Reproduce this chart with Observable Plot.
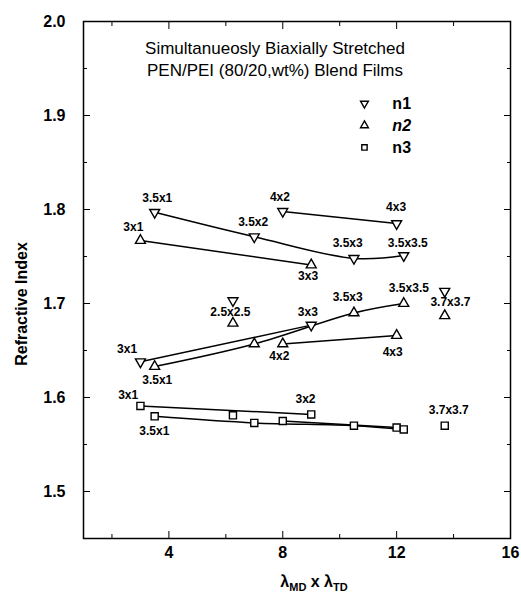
<!DOCTYPE html>
<html>
<head>
<meta charset="utf-8">
<script src="https://cdn.jsdelivr.net/npm/d3@7"></script>
<script src="https://cdn.jsdelivr.net/npm/@observablehq/plot@0.6"></script>
<style>
  html, body { margin: 0; padding: 0; background: #fff; }
  #chart { width: 521px; height: 596px; }
</style>
</head>
<body>
<div id="chart"></div>
<script>
// ---- data ----
const ratios     = ["3x1", "3.5x1", "2.5x2.5", "3.5x2", "4x2", "3x3", "3.5x3", "4x3", "3.5x3.5", "3.7x3.7"];
const drawRatio  = [3, 3.5, 6.25, 7, 8, 9, 10.5, 12, 12.25, 13.69];
const n1 = [1.638, 1.797, 1.703, 1.771, 1.798, 1.677, 1.748, 1.785, 1.751, 1.713];
const n2 = [1.767, 1.633, 1.679, 1.657, 1.657, 1.741, 1.690, 1.666, 1.700, 1.687];
const n3 = [1.591, 1.580, 1.581, 1.573, 1.575, 1.582, 1.570, 1.568, 1.566, 1.570];

const labelText = ["3.5x1", "4x2", "3.5x2", "3x1", "4x3", "3.5x3", "3.5x3.5", "3x3", "3.5x3.5", "3.7x3.7",
                   "3.5x3", "2.5x2.5", "3x3", "3x1", "4x2", "4x3", "3.5x1", "3x1", "3x2", "3.7x3.7", "3.5x1"];
const labelX = [3.59, 7.90, 6.96, 2.75, 11.98, 10.28, 12.39, 8.89, 12.43, 13.89,
                10.28, 6.16, 8.88, 2.53, 7.88, 11.86, 3.59, 2.57, 8.80, 13.83, 3.49];
const labelY = [1.812, 1.813, 1.7865, 1.781, 1.802, 1.764, 1.764, 1.7287, 1.7167, 1.7014,
                1.7064, 1.6907, 1.6907, 1.6518, 1.6436, 1.6482, 1.6188, 1.6021, 1.5986, 1.5862, 1.5638];

const seriesNames = ["n1", "n2", "n3"];
const xMajorTicks = [4, 8, 12, 16];
const xMinorTicks = [2, 6, 10, 14];
const yMajorTicks = [1.5, 1.6, 1.7, 1.8, 1.9, 2.0];
const yMinorTicks = [1.55, 1.65, 1.75, 1.85, 1.95];
const titleLines = ["Simultanueosly Biaxially Stretched", "PEN/PEI (80/20,wt%) Blend Films"];
const yLabel = "Refractive Index";
const xLabelParts = [["λ", ""], ["MD", "sub"], [" x λ", ""], ["TD", "sub"]];

// ---- build tables ----
const downTriangle = {
  draw(context, size) {
    const s = Math.sqrt(3);
    const y = -Math.sqrt(size / (s * 3));
    context.moveTo(0, -y * 2);
    context.lineTo(-s * y, y);
    context.lineTo(s * y, y);
    context.closePath();
  }
};
const seriesValues = {n1, n2, n3};
const seriesSymbol = {n1: downTriangle, n2: "triangle", n3: "square"};
const seriesR = {n1: 3.7, n2: 3.7, n3: 4};

const rows = seriesNames.flatMap(s => ratios.map((ratio, i) => ({
  series: s, ratio, md: ratio.split("x")[0], x: drawRatio[i], y: seriesValues[s][i]
})));
const lineRows = rows.filter(d => ["3", "3.5", "4"].includes(d.md));
const labels = labelText.map((t, i) => ({text: t, x: labelX[i], y: labelY[i]}));

const legendX = 10.87, legendTextX = 11.85;
const legendY = {n1: 1.9128, n2: 1.8894, n3: 1.866};

const font = "'Liberation Sans', Arial, Helvetica, sans-serif";
const xLabelText = xLabelParts.map(p => p[0]).join("");

const chart = Plot.plot({
  width: 521,
  height: 596,
  marginLeft: 83,
  marginRight: 11,
  marginTop: 21,
  marginBottom: 58,
  x: {domain: [1, 16]},
  y: {domain: [1.45, 2.0]},
  style: {fontFamily: font, fontSize: "16px", background: "#fff", color: "#000"},
  marks: [
    // axes (inward ticks on all four sides)
    Plot.axisX({ticks: xMajorTicks, tickSize: 0, tickPadding: 8, fontSize: 16, fontWeight: "bold", label: null}),
    Plot.axisX({ticks: xMajorTicks, tickSize: -7, fill: "none", label: null}),
    Plot.axisX({ticks: xMinorTicks, tickSize: -4, fill: "none", label: null}),
    Plot.axisX({anchor: "top", ticks: xMajorTicks, tickSize: -7, fill: "none", label: null}),
    Plot.axisX({anchor: "top", ticks: xMinorTicks, tickSize: -4, fill: "none", label: null}),
    Plot.axisY({ticks: yMajorTicks, tickSize: 0, tickPadding: 18, fontSize: 16, fontWeight: "bold", tickFormat: d3.format(".1f"), label: null}),
    Plot.axisY({ticks: yMajorTicks, tickSize: -7, fill: "none", label: null}),
    Plot.axisY({ticks: yMinorTicks, tickSize: -4, fill: "none", label: null}),
    Plot.axisY({anchor: "right", ticks: yMajorTicks, tickSize: -7, fill: "none", label: null}),
    Plot.axisY({anchor: "right", ticks: yMinorTicks, tickSize: -4, fill: "none", label: null}),
    Plot.frame({stroke: "#000", strokeWidth: 1.5}),

    // connecting lines
    Plot.line(lineRows, {x: "x", y: "y", z: d => d.series + "-" + d.md, curve: "catmull-rom", stroke: "#000", strokeWidth: 1.5}),

    // markers
    ...seriesNames.map(s => Plot.dot(rows.filter(d => d.series === s), {
      x: "x", y: "y", symbol: seriesSymbol[s], r: seriesR[s], fill: "#fff", stroke: "#000", strokeWidth: 1.4
    })),

    // point labels
    Plot.text(labels, {x: "x", y: "y", text: "text", fontSize: 12, fontWeight: "bold", fill: "#000"}),

    // title
    Plot.text([titleLines.join("\n")], {frameAnchor: "top", dx: -22, dy: 36, textAnchor: "middle", lineAnchor: "middle", lineHeight: 1.3, fontSize: 17, fill: "#000"}),

    // legend
    ...seriesNames.map(s => Plot.dot([s], {x: () => legendX, y: () => legendY[s], symbol: seriesSymbol[s], r: s === "n3" ? 3 : 2.9, fill: "#fff", stroke: "#000", strokeWidth: 1.4})),
    ...seriesNames.map(s => Plot.text([s], {x: () => legendTextX, y: () => legendY[s], textAnchor: "start", fontSize: 16, fontWeight: "bold", fontStyle: s === "n2" ? "italic" : "normal", fill: "#000"})),

    // axis labels
    Plot.text([yLabel], {frameAnchor: "left", dx: -62, dy: 24, rotate: -90, textAnchor: "middle", lineAnchor: "middle", fontSize: 16, fontWeight: "bold", fill: "#000"}),
    Plot.text([xLabelText], {frameAnchor: "bottom", dx: 17, dy: 43, textAnchor: "middle", lineAnchor: "middle", fontSize: 16, fontWeight: "bold", fill: "#000"})
  ]
});

document.getElementById("chart").appendChild(chart);

// turn the x label into real subscripts
chart.querySelectorAll("text").forEach(t => {
  if (t.textContent === xLabelText) {
    t.textContent = "";
    let shifted = false;
    xLabelParts.forEach(([txt, kind]) => {
      const ts = document.createElementNS("http://www.w3.org/2000/svg", "tspan");
      ts.textContent = txt;
      if (kind === "sub") {
        ts.setAttribute("font-size", "11");
        ts.setAttribute("dy", "4");
        shifted = true;
      } else if (shifted) {
        ts.setAttribute("dy", "-4");
        shifted = false;
      }
      t.appendChild(ts);
    });
  }
});
</script>
</body>
</html>
